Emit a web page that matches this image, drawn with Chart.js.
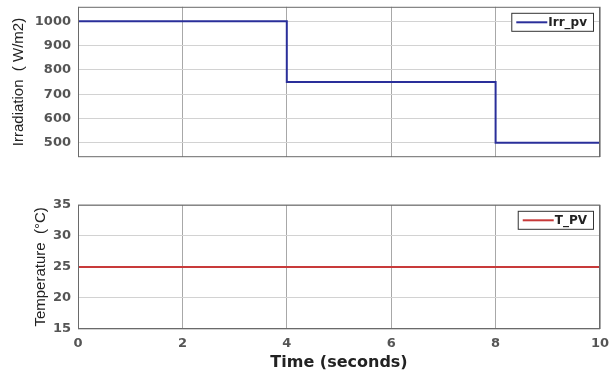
<!DOCTYPE html>
<html>
<head>
<meta charset="utf-8">
<script src="https://cdn.jsdelivr.net/npm/chart.js@4.4.0/dist/chart.umd.min.js"></script>
<style>
  html, body { margin: 0; padding: 0; background: #fff; overflow: hidden; }
  #wrap { position: relative; width: 610px; height: 372px; overflow: hidden; }
  .box { position: absolute; left: 0; width: 610px; }
</style>
</head>
<body>
<div id="wrap">
  <div class="box" style="top:-8px;height:180px"><canvas id="irrChart"></canvas></div>
  <div class="box" style="top:190px;height:182px"><canvas id="tempChart"></canvas></div>
</div>
<script>
// data
const irrTime = [0, 4, 8, 10];
const irrValues = [1000, 750, 500, 500];
const tempTime = [0, 10];
const tempValues = [25, 25];
const xTicks = [0, 2, 4, 6, 8, 10];
const irrTicks = [500, 600, 700, 800, 900, 1000];
const tempTicks = [15, 20, 25, 30, 35];

const tickFont = { family: 'DejaVu Sans', size: 13, weight: 'bold' };
const titleFont = { family: 'Liberation Sans, Arial', size: 15 };

// box around axes + matlab style legend
const frameAndLegend = {
  id: 'frameAndLegend',
  afterDatasetsDraw(chart) {
    const ctx = chart.ctx, a = chart.chartArea;
    ctx.save();
    ctx.strokeStyle = '#6a6a6a';
    ctx.lineWidth = 1;
    ctx.strokeRect(a.left + 0.5, a.top + 0.5, a.right - a.left - 1, a.bottom - a.top - 1);

    const ds = chart.data.datasets[0];
    ctx.font = 'bold 12px DejaVu Sans';
    const tw = ctx.measureText(ds.label).width;
    const w = 38 + tw + 5, h = 18;
    const x = a.right - 7 - w, y = a.top + 6;
    ctx.fillStyle = '#fff';
    ctx.fillRect(x, y, w, h);
    ctx.strokeStyle = '#333';
    ctx.strokeRect(x + 0.5, y + 0.5, w, h);
    ctx.strokeStyle = ds.borderColor;
    ctx.lineWidth = 2;
    ctx.beginPath();
    ctx.moveTo(x + 5, y + h / 2 + 0.5);
    ctx.lineTo(x + 36, y + h / 2 + 0.5);
    ctx.stroke();
    ctx.fillStyle = '#222';
    ctx.textBaseline = 'middle';
    ctx.fillText(ds.label, x + 37, y + h / 2 + 1);
    ctx.restore();
  }
};

function makeChart(id, xs, ys, label, color, yMin, yMax, yTicks, yTitle, titlePad, showX, padTop, xHeight) {
  return new Chart(document.getElementById(id), {
    type: 'line',
    data: {
      datasets: [{
        label: label,
        data: xs.map((x, i) => ({ x: x, y: ys[i] })),
        borderColor: color,
        borderWidth: 2,
        pointRadius: 0,
        stepped: 'before',
        fill: false
      }]
    },
    options: {
      responsive: true,
      maintainAspectRatio: false,
      animation: false,
      layout: { padding: { left: 0, right: 10, top: padTop, bottom: 0 } },
      plugins: { legend: { display: false }, tooltip: { enabled: false } },
      scales: {
        x: {
          type: 'linear', min: 0, max: 10,
          afterBuildTicks: s => { s.ticks = xTicks.map(v => ({ value: v })); },
          afterFit: s => { s.height = xHeight; s.paddingLeft = 0; s.paddingRight = 0; },
          grid: { color: '#a8a8a8', drawTicks: false },
          border: { display: false },
          ticks: { display: showX, font: tickFont, color: '#555', padding: 7, callback: v => String(v) },
          title: { display: showX, text: 'Time (seconds)', font: { family: 'DejaVu Sans', size: 16, weight: 'bold' }, color: '#222', padding: { top: 0, bottom: 0 } }
        },
        y: {
          min: yMin, max: yMax,
          afterBuildTicks: s => { s.ticks = yTicks.map(v => ({ value: v })); },
          afterFit: s => { s.width = 78; },
          grid: { color: '#d2d2d2', drawTicks: false },
          border: { display: false },
          ticks: { font: tickFont, color: '#555', padding: 7, callback: v => String(v) },
          title: { display: true, text: yTitle, font: titleFont, color: '#222', padding: { top: titlePad, bottom: 0 } }
        }
      }
    },
    plugins: [frameAndLegend]
  });
}

makeChart('irrChart', irrTime, irrValues, 'Irr_pv', '#2a2f9a', 440, 1060, irrTicks,
  'Irradiation  ( W/m2)', 10, false, 7, 12);
makeChart('tempChart', tempTime, tempValues, 'T_PV', '#c83a3a', 15, 35, tempTicks,
  'Temperature  (\u00b0C)', 32, true, 14, 43);
</script>
</body>
</html>
